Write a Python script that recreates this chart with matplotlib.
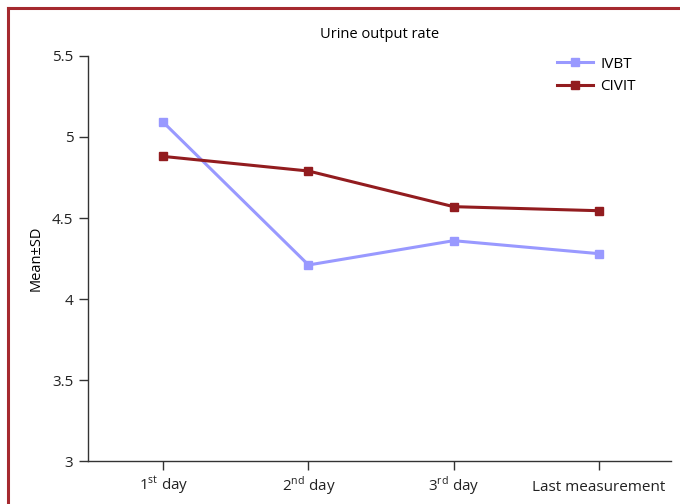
import matplotlib.pyplot as plt
from matplotlib.lines import Line2D

# data
days = ["1$^{\\mathrm{st}}$ day", "2$^{\\mathrm{nd}}$ day", "3$^{\\mathrm{rd}}$ day", "Last measurement"]
ivbt = [5.09, 4.21, 4.36, 4.28]
civit = [4.88, 4.79, 4.57, 4.545]
yticks = [3, 3.5, 4, 4.5, 5, 5.5]
ytick_labels = ["3", "3.5", "4", "4.5", "5", "5.5"]

plt.rcParams['font.family'] = ['Open Sans', 'DejaVu Sans']
plt.rcParams['mathtext.fontset'] = 'custom'
plt.rcParams['mathtext.rm'] = 'Open Sans'

fig = plt.figure(figsize=(6.8, 5.04), dpi=100)
ax = fig.add_axes([0.1294, 0.0853, 0.8576, 0.8036])

x = list(range(len(days)))
ax.plot(x, ivbt, color="#9999ff", lw=2.2, marker="s", ms=6, label="IVBT")
ax.plot(x, civit, color="#921c1f", lw=2.2, marker="s", ms=6, label="CIVIT")

ax.set_xlim(-0.52, 3.5)
ax.set_ylim(3, 5.5)
ax.set_xticks(x)
ax.set_xticklabels(days, fontsize=11, va="baseline")
ax.set_yticks(yticks)
ax.set_yticklabels(ytick_labels, fontsize=11)
ax.tick_params(length=6.5, width=1, color="#333333", labelcolor="#222222", pad=4)
ax.tick_params(axis="x", pad=15)
for s in ["top", "right"]:
    ax.spines[s].set_visible(False)
for s in ["left", "bottom"]:
    ax.spines[s].set_color("#333333")
    ax.spines[s].set_linewidth(1)

ax.set_ylabel("Mean±SD", fontsize=10.5, labelpad=6)
ax.set_title("Urine output rate", fontsize=10.5, pad=13)
ax.legend(loc="upper left", bbox_to_anchor=(0.805, 0.998), frameon=False, fontsize=11,
          borderpad=0, borderaxespad=0,
          handlelength=2.3, handletextpad=0.5, labelspacing=0.5)

# dark red frame around the figure
fig.add_artist(Line2D([8 / 680, 8 / 680], [0, 1 - 8 / 504], color="#a52a2f", lw=2.2,
                      transform=fig.transFigure))
fig.add_artist(Line2D([8 / 680, 1], [1 - 8 / 504, 1 - 8 / 504], color="#a52a2f", lw=2.2,
                      transform=fig.transFigure))

fig.savefig("out.png", dpi=100)
